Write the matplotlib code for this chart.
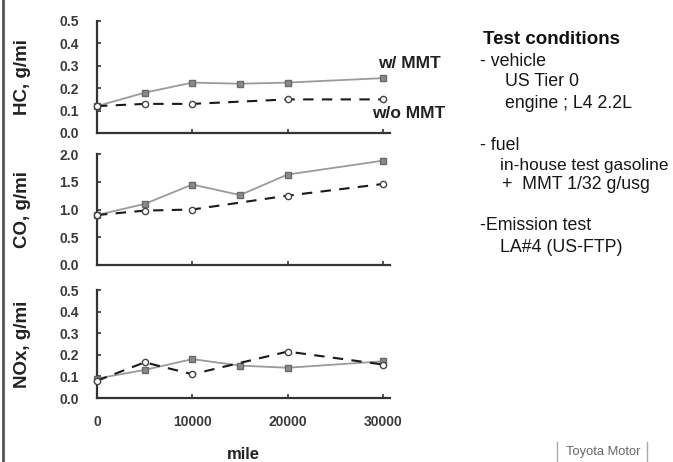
import matplotlib.pyplot as plt
from matplotlib.lines import Line2D

plt.rcParams['font.family'] = ['Liberation Sans', 'DejaVu Sans']

# mileage points
miles_w = [0, 5000, 10000, 15000, 20000, 30000]
miles_wo = [0, 5000, 10000, 20000, 30000]

# emissions, g/mi
hc_w = [0.12, 0.18, 0.225, 0.22, 0.225, 0.245]
hc_wo = [0.12, 0.13, 0.13, 0.15, 0.15]
co_w = [0.90, 1.10, 1.45, 1.26, 1.63, 1.88]
co_wo = [0.90, 0.98, 1.00, 1.25, 1.46]
nox_w = [0.09, 0.13, 0.18, 0.15, 0.14, 0.17]
nox_wo = [0.08, 0.165, 0.11, 0.215, 0.155]

panels = [
    ("HC, g/mi", hc_w, hc_wo, 0.5, [0.0, 0.1, 0.2, 0.3, 0.4, 0.5], 133, 21),
    ("CO, g/mi", co_w, co_wo, 2.0, [0.0, 0.5, 1.0, 1.5, 2.0], 265, 154),
    ("NOx, g/mi", nox_w, nox_wo, 0.5, [0.0, 0.1, 0.2, 0.3, 0.4, 0.5], 398, 290),
]

W, H = 673, 462
fig = plt.figure(figsize=(W / 100, H / 100), dpi=100)

x0, x1 = 97, 390
xmax = 30000 * (x1 - x0) / (383 - x0)
axes = []
for i, (label, yw, ywo, ymax, yt, ybot, ytop) in enumerate(panels):
    ax = fig.add_axes([x0 / W, (H - ybot) / H, (x1 - x0) / W, (ybot - ytop) / H])
    ax.plot(miles_w, yw, color='#9a9a9a', lw=1.3, marker='s', ms=4.5,
            mfc='#8a8a8a', mec='#6a6a6a', clip_on=False, zorder=3)
    ax.plot(miles_wo, ywo, color='#1a1a1a', lw=1.5, ls=(0, (5, 4)), marker='o', ms=4.5,
            mfc='white', mec='#444444', clip_on=False, zorder=4)
    ax.set_xlim(0, xmax)
    ax.set_ylim(0, ymax)
    ax.set_yticks(yt)
    ax.set_yticklabels([f"{v:.1f}" for v in yt])
    ax.set_xticks([0, 10000, 20000, 30000])
    for s in ['top', 'right']:
        ax.spines[s].set_visible(False)
    for s in ['left', 'bottom']:
        ax.spines[s].set_linewidth(1.6)
        ax.spines[s].set_color('#333333')
    ax.tick_params(direction='in', length=3, width=1.2, color='#333333',
                   labelsize=10, labelcolor='#3a3a3a', pad=13)
    ax.tick_params(axis='x', pad=12)
    for t in ax.get_yticklabels() + ax.get_xticklabels():
        t.set_fontweight('bold')
    if i < 2:
        ax.set_xticklabels([])
    ax.set_ylabel(label, fontsize=13.5, fontweight='bold', color='#222222')
    ax.yaxis.set_label_coords(-0.225, 0.5)
    ax.patch.set_alpha(0)
    axes.append(ax)

axes[2].set_xlabel("mile", fontsize=12, fontweight='bold', color='#222222')
axes[2].xaxis.set_label_coords(0.5, -0.45)


def px(x, y, s, **kw):
    fig.text(x / W, 1 - y / H, s, va='center', ha='left', **kw)


px(378, 63, "w/ MMT", fontsize=12.5, fontweight='bold', color='#222222')
px(372, 113, "w/o MMT", fontsize=12.5, fontweight='bold', color='#222222')

tc = dict(fontsize=12.8, color='#161616')
px(483, 40, "Test conditions", fontsize=13.5, fontweight='bold', color='#111111')
px(480, 62, "- vehicle", **tc)
px(505, 82, "US Tier 0", **tc)
px(505, 103, "engine ; L4 2.2L", **tc)
px(480, 145, "- fuel", **tc)
px(500, 165, "in-house test gasoline", fontsize=12.4, color='#161616')
px(502, 185, "+  MMT 1/32 g/usg", **tc)
px(480, 225, "-Emission test", **tc)
px(500, 247, "LA#4 (US-FTP)", **tc)

fig.text(603 / W, 1 - 452 / H, "Toyota Motor", fontsize=9.3, color='#666666', ha='center', va='center')
for xv in (557, 647):
    fig.add_artist(Line2D([xv / W, xv / W], [1 - 442 / H, 1 - 462 / H], color='#aaaaaa', lw=1))

fig.add_artist(Line2D([3 / W, 3 / W], [0, 1], color='#555555', lw=2))

fig.savefig("out.png", dpi=100)
